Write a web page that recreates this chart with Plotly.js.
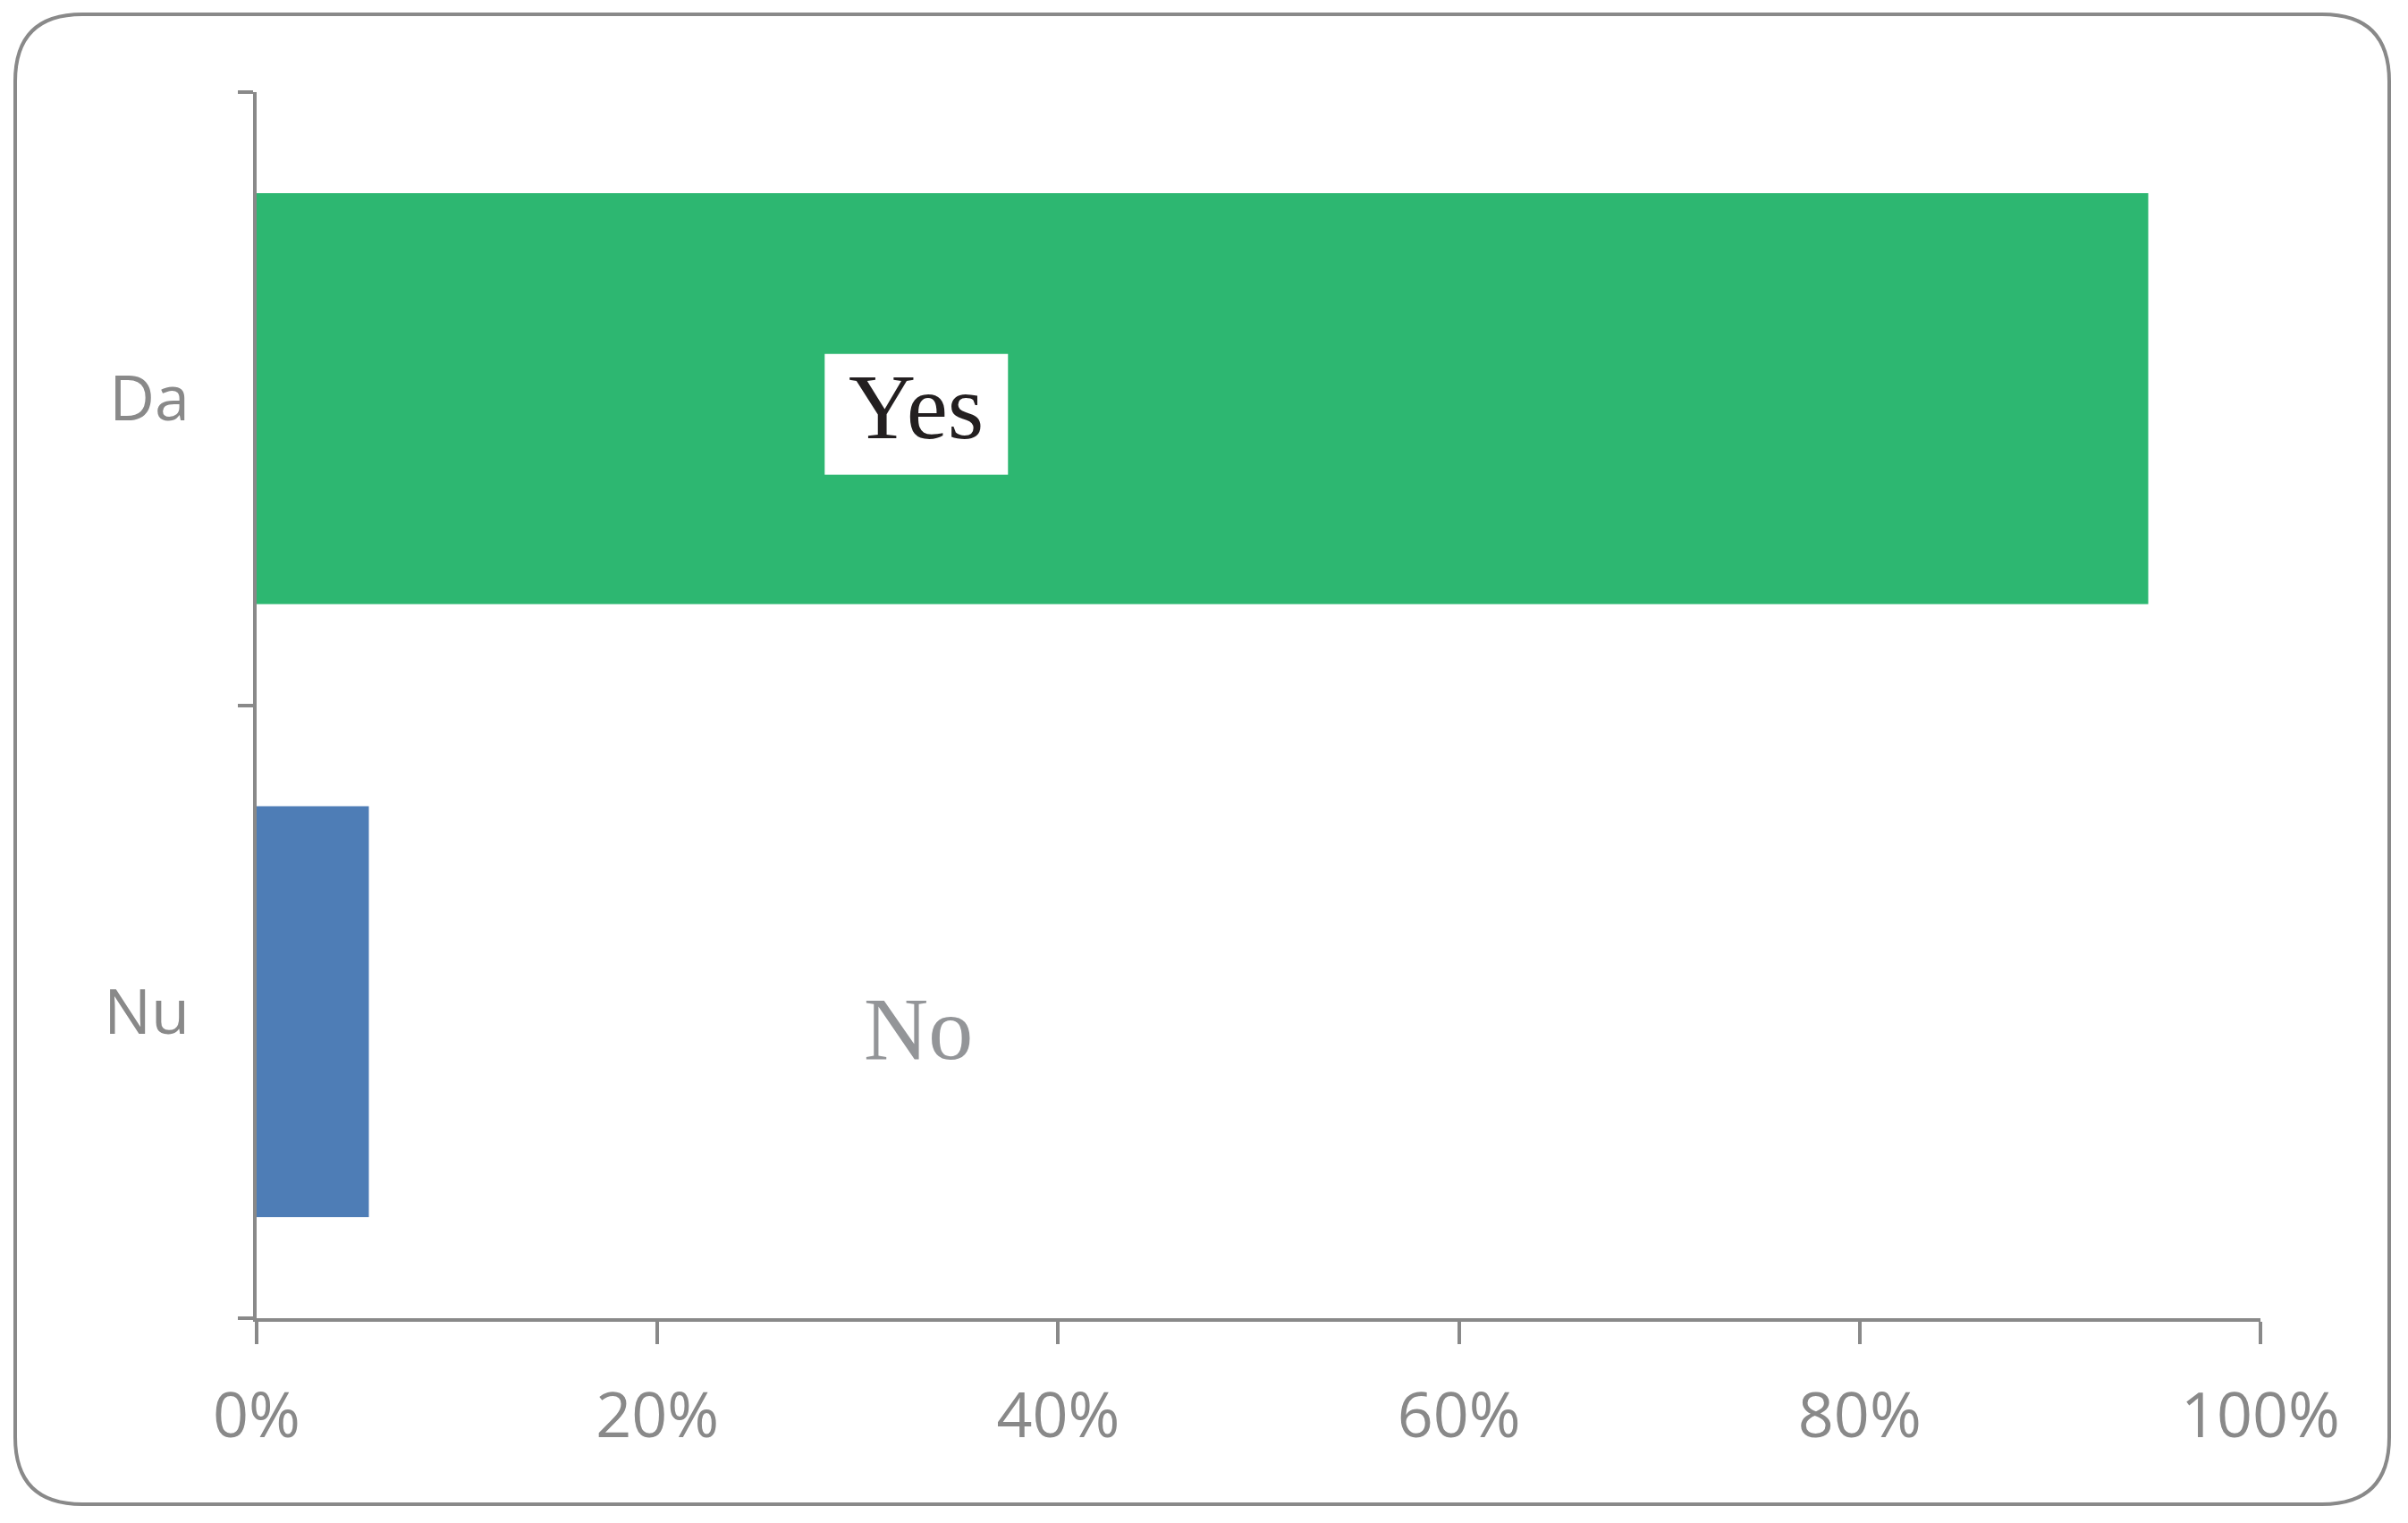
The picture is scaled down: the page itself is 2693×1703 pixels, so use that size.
<!DOCTYPE html>
<html>
<head>
<meta charset="utf-8">
<script src="https://cdn.plot.ly/plotly-3.0.1.min.js"></script>
<style>
  html, body { margin: 0; padding: 0; background: #fff; }
  #gd { width: 2693px; height: 1703px; }
</style>
</head>
<body>
<div id="gd"></div>
<script>
// answers, bottom to top
var categories = ["Nu", "Da"];
var shares = [0.056, 0.944];
var barColors = ["#4e7db6", "#2db771"];
var xTicks = [0, 0.2, 0.4, 0.6, 0.8, 1];
var notes = ["No", "Yes"];

var W = 2693, H = 1703;
var M = { l: 287, r: 165, t: 103, b: 229, pad: 0 };
var pw = W - M.l - M.r, ph = H - M.t - M.b;
var grey = "#898989";
var serif = "Liberation Serif, Times New Roman, serif";

// pixel -> paper helpers for the rounded frame
function px(x) { return (x - M.l) / pw; }
function py(y) { return (H - M.b - y) / ph; }

function roundRect(x0, y0, x1, y1, r) {
  return "M" + px(x0 + r) + "," + py(y0) +
    " L" + px(x1 - r) + "," + py(y0) +
    " Q" + px(x1) + "," + py(y0) + " " + px(x1) + "," + py(y0 + r) +
    " L" + px(x1) + "," + py(y1 - r) +
    " Q" + px(x1) + "," + py(y1) + " " + px(x1 - r) + "," + py(y1) +
    " L" + px(x0 + r) + "," + py(y1) +
    " Q" + px(x0) + "," + py(y1) + " " + px(x0) + "," + py(y1 - r) +
    " L" + px(x0) + "," + py(y0 + r) +
    " Q" + px(x0) + "," + py(y0) + " " + px(x0 + r) + "," + py(y0) + " Z";
}

var trace = {
  type: "bar",
  orientation: "h",
  y: categories,
  x: shares,
  marker: { color: barColors, line: { width: 0 } },
  hoverinfo: "none"
};

var layout = {
  width: W,
  height: H,
  margin: M,
  showlegend: false,
  paper_bgcolor: "#ffffff",
  plot_bgcolor: "#ffffff",
  bargap: 0.33,
  font: { family: "Open Sans, sans-serif", color: grey, size: 70 },
  xaxis: {
    range: [0, 1],
    tickvals: xTicks,
    tickformat: ".0%",
    showgrid: false,
    zeroline: false,
    showline: true,
    linecolor: grey,
    linewidth: 4,
    ticks: "outside",
    ticklen: 25,
    tickwidth: 4,
    tickcolor: grey,
    ticklabelstandoff: 20,
    tickfont: { family: "Open Sans, sans-serif", size: 70, color: grey }
  },
  yaxis: {
    type: "category",
    categoryorder: "array",
    categoryarray: categories,
    showgrid: false,
    zeroline: false,
    showline: true,
    linecolor: grey,
    linewidth: 4,
    ticks: "outside",
    tickson: "boundaries",
    ticklen: 17,
    tickwidth: 4,
    tickcolor: grey,
    ticklabelstandoff: 57,
    tickfont: { family: "Open Sans, sans-serif", size: 70, color: grey }
  },
  annotations: [
    {
      xref: "x", yref: "y",
      x: 0.329, y: categories[1],
      yshift: -9,
      text: notes[1],
      showarrow: false,
      font: { family: serif, size: 104, color: "#231f20" }
    },
    {
      xref: "x", yref: "y",
      x: 0.330, y: categories[0],
      yshift: -19,
      text: notes[0],
      showarrow: false,
      font: { family: serif, size: 100, color: "#939598" }
    }
  ],
  shapes: [
    {
      // white label box behind "Yes"
      type: "rect",
      xref: "x", yref: "y",
      xsizemode: "pixel", xanchor: 0.329,
      ysizemode: "pixel", yanchor: 1,
      x0: -102, x1: 103,
      y0: -85, y1: 50,
      fillcolor: "#ffffff",
      line: { width: 0 },
      layer: "above"
    },
    {
      type: "path",
      xref: "paper", yref: "paper",
      path: roundRect(17, 16, 2672, 1682, 75),
      line: { color: grey, width: 4 },
      fillcolor: "rgba(0,0,0,0)",
      layer: "above"
    }
  ]
};

var config = {
  staticPlot: true,
  displayModeBar: false,
  displaylogo: false
};

Plotly.newPlot("gd", [trace], layout, config);
</script>
</body>
</html>
